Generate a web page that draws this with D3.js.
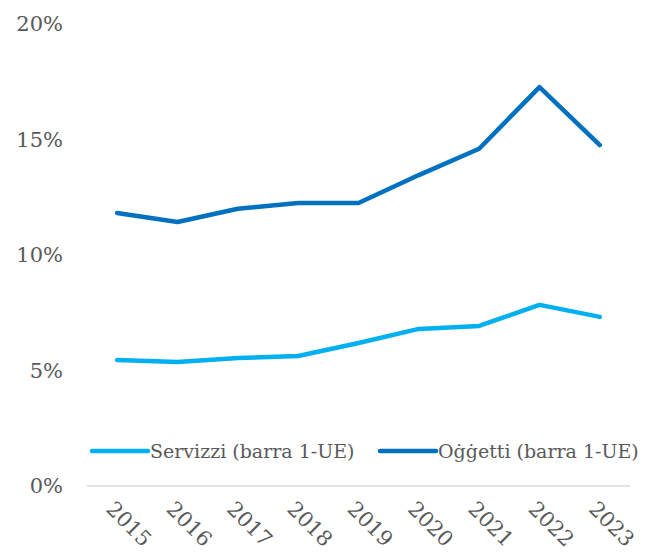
<!DOCTYPE html>
<html>
<head>
<meta charset="utf-8">
<script src="https://cdn.jsdelivr.net/npm/d3@7"></script>
<style>
  body { margin: 0; background: #fff; }
  text { font-family: "DejaVu Serif", serif; fill: #595959; }
</style>
</head>
<body>
<svg></svg>
<script>
var years = ["2015", "2016", "2017", "2018", "2019", "2020", "2021", "2022", "2023"];
var servizi = [5.45, 5.37, 5.54, 5.63, 6.19, 6.8, 6.93, 7.84, 7.32];
var oggetti = [11.82, 11.43, 12.0, 12.25, 12.25, 13.46, 14.6, 17.27, 14.76];
var yTicks = [0, 5, 10, 15, 20];
var seriesNames = ["Servizzi (barra 1-UE)", "Oġġetti (barra 1-UE)"];
var seriesColors = ["#00B0F0", "#0070C0"];

var W = 647, H = 553;
var svg = d3.select("svg").attr("width", W).attr("height", H);

// asse x a bande, punti al centro
var x = d3.scaleBand().domain(years).range([87, 630]);
var y = d3.scaleLinear().domain([0, 20]).range([486, 24]);

// etichette asse y
svg.append("g").selectAll("text")
    .data(yTicks)
    .enter().append("text")
    .attr("x", 63)
    .attr("y", function(d) { return y(d); })
    .attr("dy", "0.35em")
    .attr("text-anchor", "end")
    .style("font-size", "21px")
    .text(function(d) { return d + "%"; });

// linea di base
svg.append("line")
    .attr("x1", x.range()[0]).attr("x2", x.range()[1])
    .attr("y1", y(0)).attr("y2", y(0))
    .attr("stroke", "#d9d9d9")
    .attr("stroke-width", 1.5);

// etichette anni ruotate
svg.append("g").selectAll("text")
    .data(years)
    .enter().append("text")
    .attr("transform", function(d) {
      return "translate(" + (x(d) + x.bandwidth() / 2 - 7) + ",505) rotate(45)";
    })
    .attr("dy", "0.35em")
    .attr("text-anchor", "start")
    .style("font-size", "21px")
    .text(function(d) { return d; });

var line = d3.line()
    .x(function(d, i) { return x(years[i]) + x.bandwidth() / 2; })
    .y(function(d) { return y(d); });

[servizi, oggetti].forEach(function(s, k) {
  svg.append("path")
      .datum(s)
      .attr("fill", "none")
      .attr("stroke", seriesColors[k])
      .attr("stroke-width", 4.5)
      .attr("stroke-linejoin", "round")
      .attr("stroke-linecap", "round")
      .attr("d", line);
});

// legenda
var legendX = [92, 380];
var legend = svg.append("g").selectAll("g")
    .data(seriesNames)
    .enter().append("g")
    .attr("transform", function(d, i) { return "translate(" + legendX[i] + ",451)"; });

legend.append("line")
    .attr("x1", 0).attr("x2", 56)
    .attr("stroke", function(d, i) { return seriesColors[i]; })
    .attr("stroke-width", 4.5)
    .attr("stroke-linecap", "round");

legend.append("text")
    .attr("x", 58)
    .attr("dy", "0.35em")
    .style("font-size", "19px")
    .text(function(d) { return d; });
</script>
</body>
</html>
